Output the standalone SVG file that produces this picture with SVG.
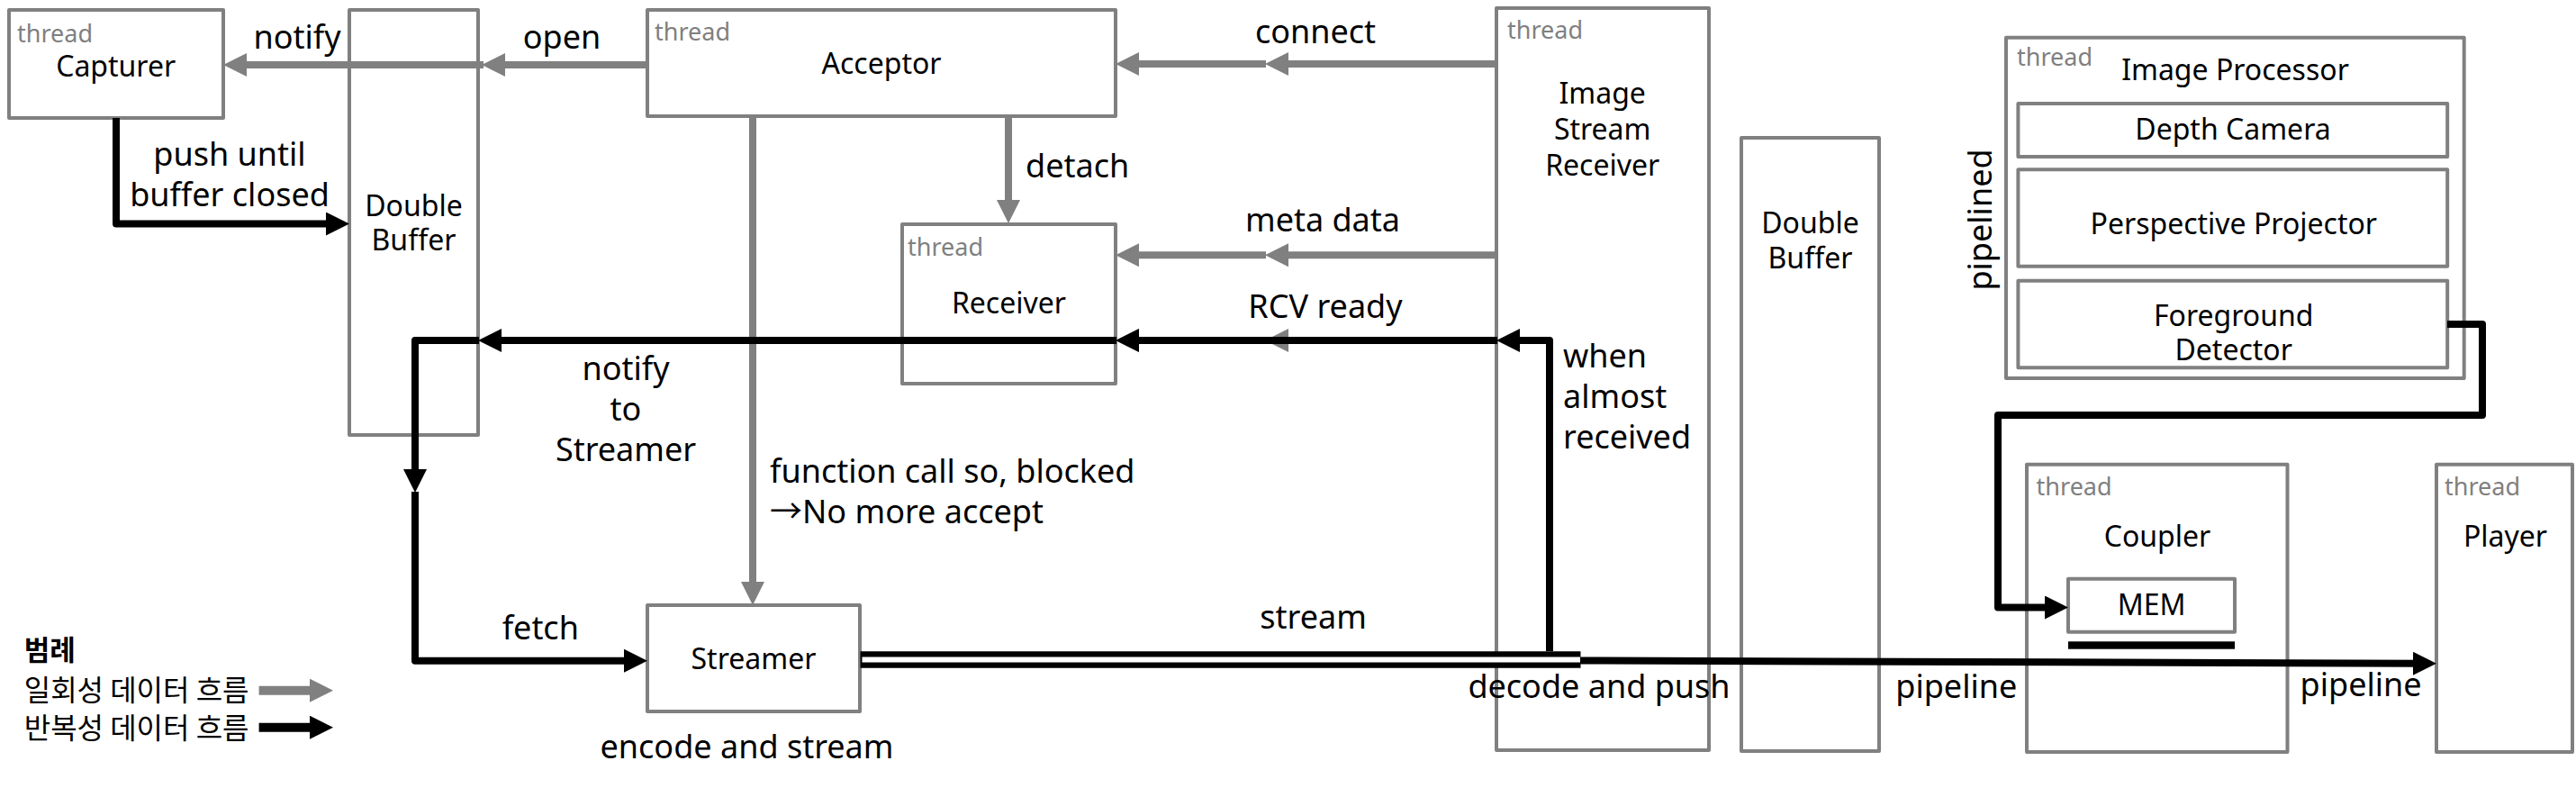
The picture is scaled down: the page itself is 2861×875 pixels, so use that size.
<svg xmlns="http://www.w3.org/2000/svg" width="2861" height="875" viewBox="0 0 2861 875">
<style>
.box{fill:#fff;stroke:#808080;stroke-width:4;stroke-linejoin:round}
text{font-family:"Noto Sans","Noto Sans CJK KR",sans-serif;fill:#000}
.th{font-size:27px;fill:#808080}
.nm{font-size:32px;text-anchor:middle}
.lb{font-size:36px}
.c{text-anchor:middle}
.kr{font-family:"Noto Sans CJK KR",sans-serif;font-size:32px}
.g{fill:none;stroke:#808080;stroke-width:8;marker-end:url(#ag)}
.k{fill:none;stroke:#000;stroke-width:8;stroke-linejoin:round;marker-end:url(#ak)}
</style>
<defs>
<marker id="ag" markerUnits="userSpaceOnUse" viewBox="0 0 26 26" markerWidth="26" markerHeight="26" refX="14" refY="13" orient="auto"><path d="M0,0 L26,13 L0,26 z" fill="#808080"/></marker>
<marker id="ak" markerUnits="userSpaceOnUse" viewBox="0 0 26 26" markerWidth="26" markerHeight="26" refX="14" refY="13" orient="auto"><path d="M0,0 L26,13 L0,26 z" fill="#000"/></marker>
</defs>

<g id="capturer"><rect class="box" x="10" y="11" width="238" height="120"/><text class="th" x="19" y="46.5">thread</text><text class="nm" x="128.7" y="85">Capturer</text></g>
<g id="double-buffer-1"><rect class="box" x="388" y="11" width="143" height="472"/><text class="nm" x="459.5" y="240">Double</text><text class="nm" x="459.5" y="278">Buffer</text></g>
<g id="acceptor"><rect class="box" x="719" y="11" width="520" height="118"/><text class="th" x="727" y="45">thread</text><text class="nm" x="979" y="81.7">Acceptor</text></g>
<g id="receiver"><rect class="box" x="1002" y="249" width="237" height="177"/><text class="th" x="1008" y="284">thread</text><text class="nm" x="1120.5" y="348">Receiver</text></g>
<g id="streamer"><rect class="box" x="719" y="672" width="236" height="118"/><text class="nm" x="837" y="743">Streamer</text></g>
<g id="image-stream-receiver"><rect class="box" x="1662" y="9" width="236" height="824"/><text class="th" x="1674" y="43.3">thread</text><text class="nm" x="1779.7" y="115">Image</text><text class="nm" x="1779.7" y="155">Stream</text><text class="nm" x="1779.7" y="195">Receiver</text></g>
<g id="double-buffer-2"><rect class="box" x="1934" y="153" width="153" height="681"/><text class="nm" x="2010.5" y="259">Double</text><text class="nm" x="2010.5" y="298">Buffer</text></g>
<g id="image-processor"><rect class="box" x="2228" y="41.7" width="508.7" height="378.3"/><text class="th" x="2240" y="72.7">thread</text><text class="nm" x="2482.5" y="89.3">Image Processor</text>
<rect class="box" x="2241.4" y="115" width="476.8" height="59"/><text class="nm" x="2480" y="155">Depth Camera</text>
<rect class="box" x="2241.4" y="188.3" width="476.8" height="107.4"/><text class="nm" x="2480.8" y="260">Perspective Projector</text>
<rect class="box" x="2241.4" y="311.7" width="476.8" height="96.6"/><text class="nm" x="2480.7" y="361.7">Foreground</text><text class="nm" x="2480.7" y="400">Detector</text>
<text class="lb c" transform="translate(2212,244) rotate(-90)">pipelined</text></g>
<g id="coupler"><rect class="box" x="2251" y="515.7" width="289.5" height="319.3"/><text class="th" x="2261.6" y="550">thread</text><text class="nm" x="2396" y="606.7">Coupler</text>
<rect class="box" x="2297" y="642.7" width="185" height="59"/><text class="nm" x="2389.7" y="683.3">MEM</text><rect x="2297" y="712.3" width="185" height="8.4" fill="#000"/></g>
<g id="player"><rect class="box" x="2706" y="515.7" width="151" height="319.3"/><text class="th" x="2715" y="550">thread</text><text class="nm" x="2782.5" y="606.7">Player</text></g>

<g id="connectors">
<path class="g" d="M717,72 H547"/>
<path class="g" d="M537,72 H260"/>
<path class="g" d="M1662,71 H1417"/>
<path class="g" d="M1406,71 H1251"/>
<path class="g" d="M1662,283.3 H1417"/>
<path class="g" d="M1406,283.3 H1251"/>
<path class="g" d="M1662,378 H1417"/>
<path class="g" d="M1406,378 H1251"/>
<path class="g" d="M1120,129 V236"/>
<path class="g" d="M836,129 V660"/>
<path class="k" d="M129,131 V248.5 H376"/>
<path class="k" d="M1721,723 V378 H1674"/>
<path class="k" d="M1663,378 H1251"/>
<path class="k" d="M1240,378 H543"/>
<path class="k" d="M532,378 H461 V535"/>
<path class="k" d="M461,546 V733.7 H707"/>
<path d="M955.5,732.5 H1755.5" stroke="#000" stroke-width="18.4" fill="none"/>
<path d="M957.5,732.5 H1755.5" stroke="#fff" stroke-width="6.2" fill="none"/>
<path class="k" d="M1755,733.5 L2694,736.8"/>
<path class="k" d="M2718,360 H2757 V461 H2219 V674.5 H2285"/>
<path class="g" style="stroke-width:10" d="M287.6,766.7 H358"/>
<path class="k" style="stroke-width:10" d="M287.6,807.7 H358"/>
</g>

<g id="labels">
<text class="lb c" x="330" y="54">notify</text>
<text class="lb c" x="624" y="54">open</text>
<text class="lb c" x="1461" y="48.3">connect</text>
<text class="lb" x="1139" y="196.7">detach</text>
<text class="lb c" x="1469" y="256.7">meta data</text>
<text class="lb c" x="1472" y="353.3">RCV ready</text>
<text class="lb c" x="255" y="183.5">push until</text>
<text class="lb c" x="255" y="228.5">buffer closed</text>
<text class="lb c" x="695" y="422">notify</text>
<text class="lb c" x="695" y="467">to</text>
<text class="lb c" x="695" y="512">Streamer</text>
<text class="lb" x="855" y="536">function call so, blocked</text>
<text class="lb" x="855" y="581">→No more accept</text>
<text class="lb" x="1736" y="407.5">when</text>
<text class="lb" x="1736" y="452.5">almost</text>
<text class="lb" x="1736" y="497.5">received</text>
<text class="lb" x="557.7" y="710">fetch</text>
<text class="lb c" x="1458.6" y="698.3">stream</text>
<text class="lb c" x="829.5" y="841.7">encode and stream</text>
<text class="lb" x="1630.4" y="775">decode and push</text>
<text class="lb" x="2105.3" y="775">pipeline</text>
<text class="lb" x="2554.6" y="773">pipeline</text>
</g>
<g id="legend">
<text class="kr" x="26.7" y="733.3" style="font-weight:bold;font-size:31px">범례</text>
<text class="kr" x="26.7" y="778.3">일회성 데이터 흐름</text>
<text class="kr" x="26.7" y="820">반복성 데이터 흐름</text>
</g>
</svg>
